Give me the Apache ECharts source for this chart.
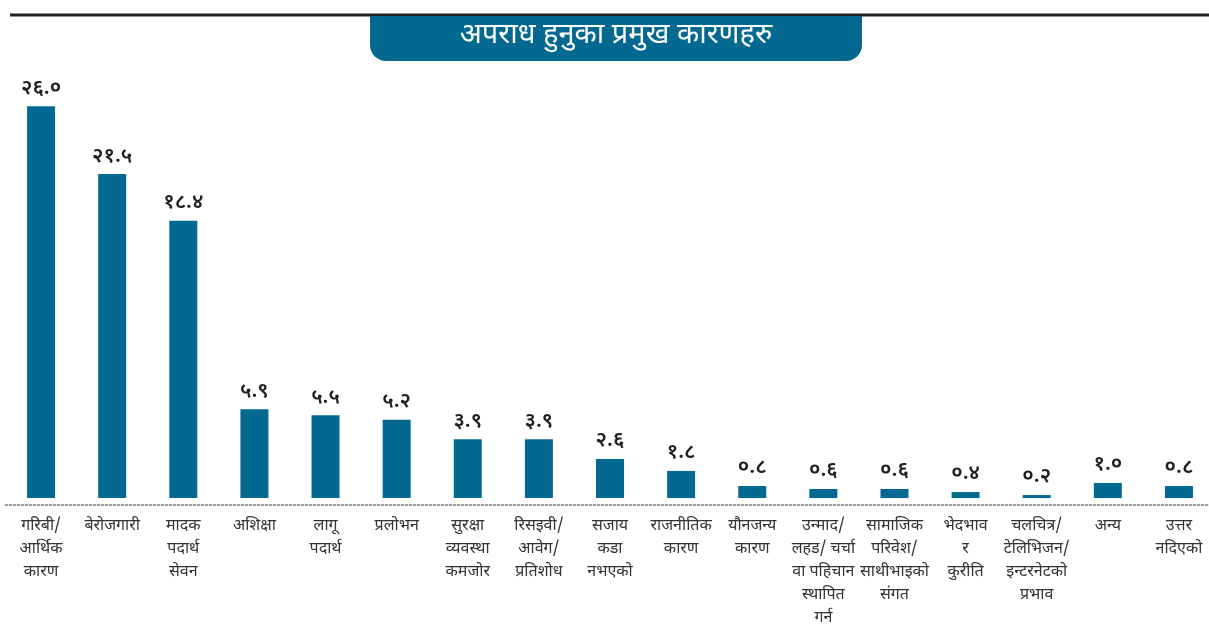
<!DOCTYPE html>
<html>
<head>
<meta charset="utf-8">
<script src="https://cdn.jsdelivr.net/npm/echarts@6/dist/echarts.min.js"></script>
<style>
  html, body { margin: 0; padding: 0; background: #fff; }
  #chart { width: 1209px; height: 633px; }
</style>
</head>
<body>
<div id="chart"></div>
<script>
// कारणहरु (x axis)
var categories = [
  'गरिबी/\nआर्थिक\nकारण',
  'बेरोजगारी',
  'मादक\nपदार्थ\nसेवन',
  'अशिक्षा',
  'लागू\nपदार्थ',
  'प्रलोभन',
  'सुरक्षा\nव्यवस्था\nकमजोर',
  'रिसइवी/\nआवेग/\nप्रतिशोध',
  'सजाय\nकडा\nनभएको',
  'राजनीतिक\nकारण',
  'यौनजन्य\nकारण',
  'उन्माद/\nलहड/ चर्चा\nवा पहिचान\nस्थापित\nगर्न',
  'सामाजिक\nपरिवेश/\nसाथीभाइको\nसंगत',
  'भेदभाव\nर\nकुरीति',
  'चलचित्र/\nटेलिभिजन/\nइन्टरनेटको\nप्रभाव',
  'अन्य',
  'उत्तर\nनदिएको'
];
// प्रतिशत
var values = [26.0, 21.5, 18.4, 5.9, 5.5, 5.2, 3.9, 3.9, 2.6, 1.8, 0.8, 0.6, 0.6, 0.4, 0.2, 1.0, 0.8];
var title = 'अपराध हुनुका प्रमुख कारणहरु';

var nepDigits = ['०','१','२','३','४','५','६','७','८','९'];
function toNep(v) {
  return v.toFixed(1).replace(/[0-9]/g, function (d) { return nepDigits[+d]; });
}

var font = '"Noto Sans Devanagari", "Noto Sans", sans-serif';
var barColor = '#046990';

var chart = echarts.init(document.getElementById('chart'));
chart.setOption({
  animation: false,
  textStyle: { fontFamily: font },
  // bottom of grid sits a little under the bars' zero line
  grid: { left: 5.5, width: 1209, top: 46, bottom: 128, outerBoundsMode: 'none', containLabel: false },
  xAxis: {
    type: 'category',
    data: categories,
    axisTick: { show: false },
    axisLine: { onZero: false, lineStyle: { color: '#777', type: [2, 2], width: 1.5 } },
    axisLabel: {
      interval: 0,
      margin: 10,
      color: '#333',
      fontSize: 16,
      lineHeight: 23,
      fontFamily: font
    }
  },
  yAxis: {
    type: 'value',
    min: -0.46,
    max: 30,
    show: false,
    splitLine: { show: false }
  },
  series: [{
    type: 'bar',
    data: values,
    barWidth: 28,
    itemStyle: { color: barColor },
    label: {
      show: true,
      position: 'top',
      distance: 6,
      color: '#231f20',
      fontSize: 21,
      fontWeight: 600,
      fontFamily: font,
      formatter: function (p) { return toNep(p.value); }
    }
  }],
  graphic: [
    {
      type: 'line',
      shape: { x1: 10, y1: 15, x2: 1209, y2: 15 },
      style: { stroke: '#231f20', lineWidth: 3 }
    },
    {
      type: 'rect',
      shape: { x: 370, y: 16, width: 492, height: 45, r: [0, 0, 16, 16] },
      style: { fill: barColor }
    },
    {
      type: 'text',
      x: 616,
      y: 38,
      style: {
        text: title,
        fill: '#fff',
        fontSize: 29,
        fontFamily: font,
        align: 'center',
        verticalAlign: 'middle'
      }
    }
  ]
});
</script>
</body>
</html>
